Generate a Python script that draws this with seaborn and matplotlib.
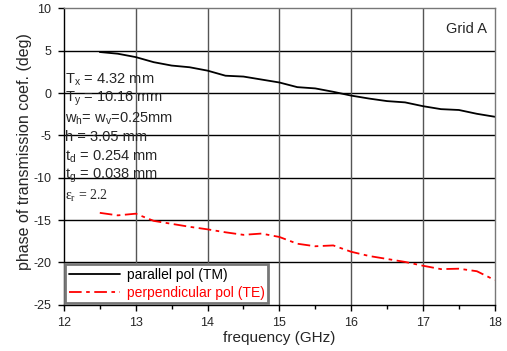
import matplotlib
matplotlib.use("Agg")
import matplotlib.pyplot as plt
import seaborn as sns
import pandas as pd
import numpy as np

# frequency points (GHz)
freq = [12.5, 12.75, 13.0, 13.25, 13.5, 13.75, 14.0, 14.25, 14.5, 14.75, 15.0, 15.25,
        15.5, 15.75, 16.0, 16.25, 16.5, 16.75, 17.0, 17.25, 17.5, 17.75, 18.0]

# phase of transmission coefficient (deg)
phase_tm = [4.85, 4.65, 4.25, 3.65, 3.25, 3.05, 2.65, 2.05, 1.95, 1.6, 1.25, 0.7,
            0.55, 0.15, -0.3, -0.65, -0.95, -1.1, -1.55, -1.9, -2.0, -2.45, -2.8]
phase_te = [-14.15, -14.45, -14.25, -15.1, -15.45, -15.8, -16.1, -16.45, -16.75, -16.6,
            -17.0, -17.8, -18.1, -18.0, -18.75, -19.25, -19.6, -19.95, -20.4, -20.8,
            -20.75, -21.05, -22.1]

labels = ["parallel pol (TM)", "perpendicular pol (TE)"]

df = pd.DataFrame({"freq": freq * 2,
                   "phase": phase_tm + phase_te,
                   "pol": [labels[0]] * len(freq) + [labels[1]] * len(freq)})

sns.set_style("white")
plt.rcParams["font.family"] = ["Liberation Sans", "DejaVu Sans"]

fig = plt.figure(figsize=(5.07, 3.51), dpi=100)
ax = fig.add_axes([0.126, 0.132, 0.85, 0.844])

sns.lineplot(data=df, x="freq", y="phase", hue="pol", style="pol",
             palette={labels[0]: "black", labels[1]: "red"},
             dashes={labels[0]: "", labels[1]: (7, 2.5, 2, 2.5)},
             linewidth=1.3, ax=ax)

ax.set_xlim(12, 18)
ax.set_ylim(-25, 10)
ax.set_xticks(np.arange(12, 18.1, 1))
ax.set_xticks(np.arange(12.5, 18, 1), minor=True)
ax.set_yticks(np.arange(-25, 10.1, 5))

# grid: horizontal black, vertical grey
for v in range(-20, 10, 5):
    ax.axhline(v, color="black", lw=1.0, zorder=0)
for v in range(13, 18):
    ax.axvline(v, color="#555555", lw=1.0, zorder=0)

for s in ["left", "bottom"]:
    ax.spines[s].set_color("black")
    ax.spines[s].set_linewidth(1.0)
for s in ["top", "right"]:
    ax.spines[s].set_color("#777777")
    ax.spines[s].set_linewidth(1.0)

ax.tick_params(axis="both", which="both", direction="out", length=4, width=1,
               color="black", labelsize=9, left=True, bottom=True, pad=5)
ax.tick_params(axis="x", which="minor", length=3)
ax.set_xticklabels([str(v) for v in range(12, 19)])
ax.set_yticklabels([str(v) for v in range(-25, 11, 5)])

ax.set_xlabel("frequency (GHz)", fontsize=11, labelpad=1)
ax.set_ylabel("phase of transmission coef. (deg)", fontsize=11.5, labelpad=1)
ax.yaxis.label.set_y(0.518)

leg = ax.legend(loc="lower left", fontsize=10, frameon=True, fancybox=False,
                borderaxespad=0.1, handlelength=3.7, labelspacing=0.3,
                borderpad=0.25, handletextpad=0.5)
leg.get_frame().set_edgecolor("#777777")
leg.get_frame().set_linewidth(2)
leg.get_frame().set_facecolor("white")
leg.get_frame().set_alpha(1)
for txt, c in zip(leg.get_texts(), ["black", "red"]):
    txt.set_color(c)

ax.text(0.935, 0.93, "Grid A", transform=ax.transAxes, ha="center", va="center",
        fontsize=10.5)

params = [r"T$_\mathregular{x}$ = 4.32 mm",
          r"T$_\mathregular{y}$ = 10.16 mm",
          r"w$_\mathregular{h}$= w$_\mathregular{v}$=0.25mm",
          "h = 3.05 mm",
          r"t$_\mathregular{d}$ = 0.254 mm",
          r"t$_\mathregular{g}$ = 0.038 mm"]
y0 = 0.758
for i, p in enumerate(params):
    ax.text(0.003, y0 - i * 0.0642, p, transform=ax.transAxes, ha="left",
            va="center", fontsize=10.5)
ax.text(0.003, 0.369, r"ε$_\mathregular{r}$ = 2.2",
        transform=ax.transAxes, ha="left", va="center", fontsize=10,
        family="Liberation Serif")

fig.savefig("out.png", dpi=100)
